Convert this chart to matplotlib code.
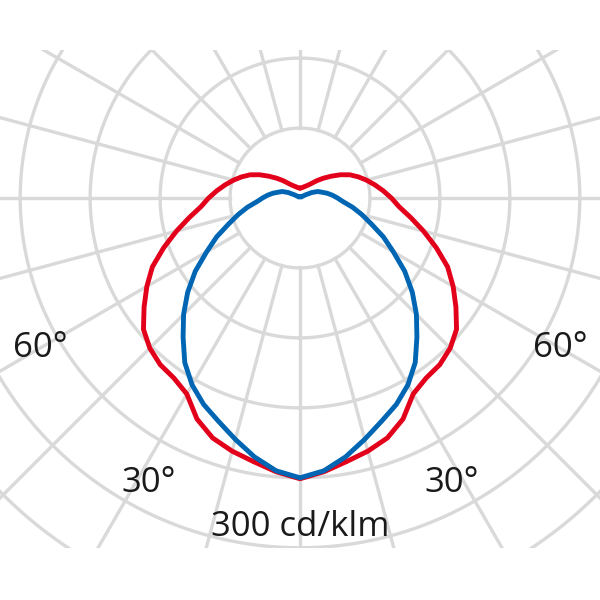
import numpy as np
import matplotlib.pyplot as plt
from matplotlib.patches import Rectangle

plt.rcParams['font.family'] = ['Open Sans', 'DejaVu Sans']

# luminous intensity, cd/klm, gamma measured from nadir (symmetric planes)
gamma = [0, 5, 10, 15, 20, 25, 30, 35, 40, 45, 50, 55, 60, 65, 70, 75, 80, 85, 90,
         95, 100, 105, 110, 115, 120, 125, 130, 135, 140, 145, 150, 155, 160, 165,
         170, 175, 180]
red = [301, 294.6, 287, 281, 273.8, 261.4, 242.7, 235.7, 233.2, 227.7, 219.1, 204.1,
       189.6, 174.6, 155.4, 137.1, 120.5, 106.6, 98, 89.5, 81.4, 73.9, 66.4, 58.9,
       49.8, 40.7, 33.2, 26.8, 21.4, 17.7, 15.5, 13.9, 12.9, 11.8, 11.2, 10.7, 10.7]
blue = [300, 293.6, 281.8, 267.9, 255, 244.3, 231.4, 215.4, 195, 176.5, 157.2, 137.1,
        115.7, 98.6, 81.4, 68.6, 57.3, 46.6, 40.2, 34.8, 29.5, 24.1, 20.4, 13.9, 6.4,
        3.2, 1.6, 1.6, 1.6, 1.6, 1.6, 1.6, 1.6, 1.6, 1.6, 1.6, 1.6]

rings = [75, 150, 225, 300, 375, 450, 525]
spokes = list(range(0, 360, 15))
angle_labels = ['60°', '30°', '30°', '60°']
angle_label_pos = [-60, -28, 28, 60]
angle_label_r = [322, 346, 346, 322]
scale_label = '300 cd/klm'

rmax = 520
fig = plt.figure(figsize=(6, 6), dpi=100)
half = 485 / 600
cy = 1 - 198 / 600
ax = fig.add_axes([0.5 - half, cy - half, 2 * half, 2 * half], projection='polar')
ax.set_theta_zero_location('S')
ax.set_ylim(0, rmax)
ax.grid(False)
ax.set_xticks([])
ax.set_yticks([])
ax.spines['polar'].set_visible(False)

clip = Rectangle((0, 1 - 548 / 600), 1, (548 - 50) / 600, transform=fig.transFigure)

gridc = '#d9d9d9'
t = np.linspace(0, 2 * np.pi, 721)
for r in rings:
    ln, = ax.plot(t, np.full_like(t, r), color=gridc, lw=2.4, zorder=1)
    ln.set_clip_path(clip)
for a in spokes:
    ln, = ax.plot([np.deg2rad(a)] * 2, [rings[0], rmax + 200], color=gridc, lw=2.4, zorder=1)
    ln.set_clip_path(clip)

g = np.array(gamma, dtype=float)
th = np.deg2rad(np.concatenate([-g[::-1], g[1:]]))
for vals, col in [(red, '#e2001a'), (blue, '#0066b3')]:
    v = np.array(vals, dtype=float)
    ax.plot(th, np.concatenate([v[::-1], v[1:]]), color=col, lw=3.5, zorder=3,
            solid_joinstyle='round', solid_capstyle='round')

for lab, a, r in zip(angle_labels, angle_label_pos, angle_label_r):
    ax.text(np.deg2rad(a), r, lab, ha='center', va='center', fontsize=25, color='#1a1a1a')
ax.text(0, 353, scale_label, ha='center', va='center', fontsize=25, color='#1a1a1a')

fig.savefig('out.png', dpi=100)
